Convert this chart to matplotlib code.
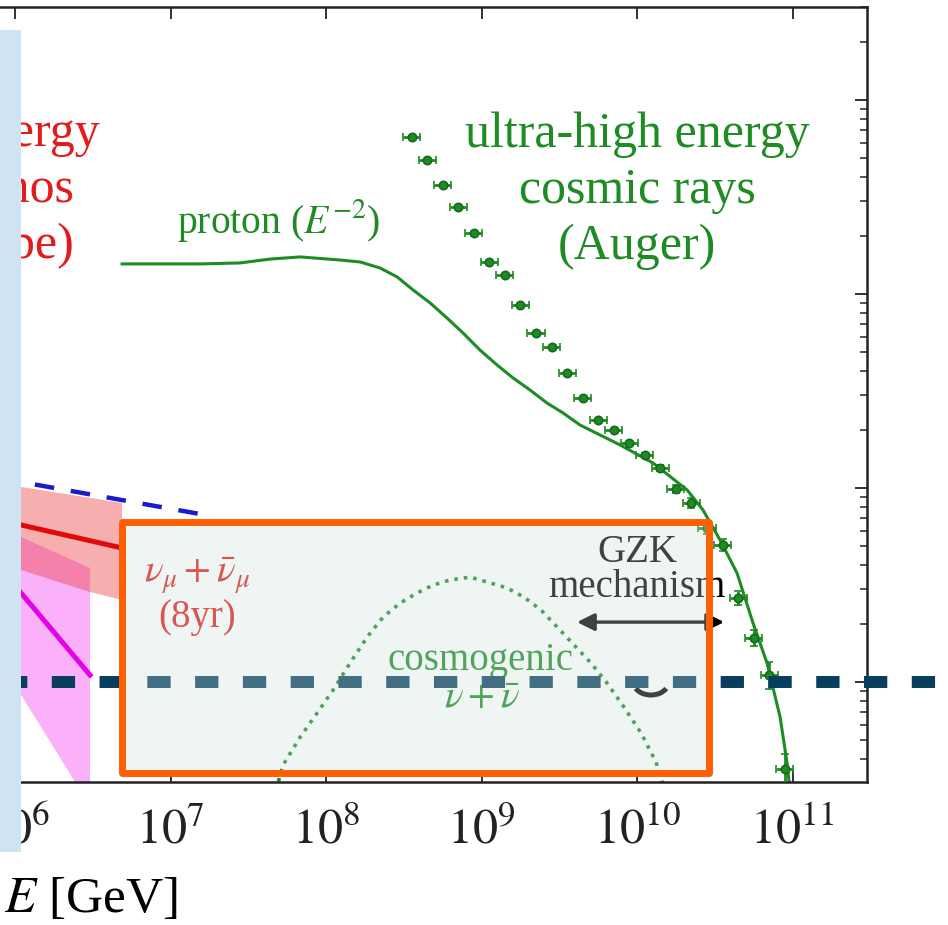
import numpy as np
import matplotlib
matplotlib.use("Agg")
import matplotlib.pyplot as plt
from matplotlib.patches import Rectangle, Polygon, Arc

# log10(E / GeV) and log10(E^2 flux)
proton_logE = [6.688, 7.190, 7.447, 7.640, 7.833, 8.090, 8.219, 8.347, 8.457, 8.559,
               8.669, 8.778, 8.881, 8.990, 9.100, 9.203, 9.312, 9.421, 9.524, 9.633,
               9.891, 10.103, 10.322, 10.424, 10.534, 10.643, 10.746, 10.836, 10.920,
               10.965, 10.990]
proton_logF = [-6.845, -6.845, -6.840, -6.820, -6.809, -6.825, -6.835, -6.866, -6.912, -6.979,
               -7.046, -7.124, -7.201, -7.289, -7.366, -7.433, -7.495, -7.562, -7.613, -7.675,
               -7.778, -7.871, -8.010, -8.113, -8.268, -8.438, -8.696, -8.902, -9.180,
               -9.418, -9.608]

auger_logE = [8.55, 8.65, 8.75, 8.85, 8.95, 9.05, 9.15, 9.25, 9.35, 9.45, 9.55, 9.65, 9.75,
              9.85, 9.95, 10.05, 10.15, 10.25, 10.35, 10.45, 10.55, 10.65, 10.75, 10.85, 10.95]
auger_logF = [-6.191, -6.309, -6.438, -6.552, -6.686, -6.835, -6.902, -7.057, -7.201, -7.273,
              -7.407, -7.536, -7.649, -7.701, -7.768, -7.830, -7.897, -8.005, -8.077, -8.206,
              -8.294, -8.567, -8.773, -8.964, -9.450]
auger_dlogF = [0.005, 0.005, 0.005, 0.005, 0.005, 0.005, 0.005, 0.005, 0.005, 0.005,
               0.005, 0.005, 0.005, 0.005, 0.005, 0.008, 0.015, 0.02, 0.025, 0.03,
               0.03, 0.035, 0.04, 0.07, 0.08]
auger_dlogE = 0.055

cosmo_logE = [7.677, 7.723, 7.833, 7.942, 8.045, 8.154, 8.264, 8.367, 8.476, 8.585, 8.688,
              8.797, 8.926, 9.061, 9.164, 9.273, 9.383, 9.486, 9.595, 9.704, 9.807,
              9.916, 10.026, 10.122, 10.161, 10.180]
cosmo_logF = [-9.560, -9.428, -9.284, -9.160, -9.041, -8.902, -8.768, -8.665, -8.593, -8.541,
              -8.500, -8.474, -8.459, -8.490, -8.515, -8.562, -8.629, -8.716, -8.809,
              -8.902, -9.005, -9.129, -9.263, -9.412, -9.515, -9.557]

# IceCube nu_mu + nubar_mu (8yr) best fit and band
numu_logE = [5.8, 6.688]
numu_logF = [-8.147, -8.309]
numu_band_logE = [5.8, 6.688, 6.688, 6.482, 5.8]
numu_band_logF = [-7.964, -8.077, -8.577, -8.536, -8.361]

# cascade best fit and band
casc_logE = [5.8, 6.482]
casc_logF = [-8.314, -8.964]
casc_band_logE = [5.8, 6.482, 6.482, 5.8]
casc_band_logF = [-8.167, -8.412, -9.639, -8.758]

# upper dashed limit
limit_logE = [5.8, 7.19]
limit_logF = [-7.935, -8.134]

gzk_logE = [9.614, 10.56]
gzk_logF = -8.691

box_logE = [6.69, 10.46]
box_logF = [-9.47, -8.175]

xtick_exps = [6, 7, 8, 9, 10, 11]

green = "#1e8b24"
red = "#e41a1c"

plt.rcParams["font.family"] = "Liberation Serif"
plt.rcParams["mathtext.fontset"] = "stix"

fig = plt.figure(figsize=(9.48, 9.25), dpi=100)
ax = fig.add_axes([-16 / 948, 143 / 925, 883 / 948, 775 / 925])
ax.set_xscale("log")
ax.set_yscale("log")
ax.set_xlim(10 ** 5.8, 10 ** 11.479)
ax.set_ylim(10 ** -9.515, 10 ** -5.521)

p10 = lambda v: 10 ** np.asarray(v, dtype=float)

# bands and neutrino fits
ax.add_patch(Polygon(np.column_stack([p10(casc_band_logE), p10(casc_band_logF)]),
                     closed=True, facecolor=(0.95, 0.2, 0.95), alpha=0.38, lw=0, zorder=1))
ax.add_patch(Polygon(np.column_stack([p10(numu_band_logE), p10(numu_band_logF)]),
                     closed=True, facecolor=(0.93, 0.25, 0.25), alpha=0.42, lw=0, zorder=1.1))
ax.plot(p10(numu_logE), p10(numu_logF), color="#e00a0a", lw=3.6, zorder=2)
ax.plot(p10(casc_logE), p10(casc_logF), color="#e600e6", lw=3.6, zorder=2)
ax.plot(p10(limit_logE), p10(limit_logF), color="#1a1ad0", lw=3.2,
        dashes=(4.4, 3.8), zorder=2)

# cosmic ray spectrum and proton model
ax.plot(p10(proton_logE), p10(proton_logF), color=green, lw=2.2, zorder=2)
aE = p10(auger_logE)
aF = p10(auger_logF)
dF = np.asarray(auger_dlogF)
xerr = [aE - aE * 10 ** -auger_dlogE, aE * 10 ** auger_dlogE - aE]
yerr = [aF - aF * 10 ** -dF, aF * 10 ** dF - aF]
yerr[0][-1] = aF[-1] - 10 ** -9.9
ax.errorbar(aE, aF, xerr=xerr, yerr=yerr, fmt="o", ms=6, color=green,
            mec="#156b1a", mew=1.2, ecolor=green, elinewidth=2.0, capsize=3.2,
            capthick=2.0, zorder=3)

# cosmogenic neutrinos
ax.plot(p10(cosmo_logE), p10(cosmo_logF), color="#22852a", lw=2.6, ls=":", zorder=2)

# GZK arrow
ax.annotate("", xy=(p10(gzk_logE[0]), p10(gzk_logF)), xytext=(p10(gzk_logE[1]), p10(gzk_logF)),
            arrowprops=dict(arrowstyle="<|-|>", color="black", lw=2.4,
                            mutation_scale=26, shrinkA=0, shrinkB=0), zorder=3)
ax.add_patch(Arc((651 / 948, 1 - 683 / 925), 34 / 948, 24 / 925, theta1=200, theta2=340,
                 transform=fig.transFigure, color="black", lw=3.6, zorder=3))

# labels
for txt, lx, ly in [("high-energy", 6.547, -6.237), ("neutrinos", 6.386, -6.521),
                    ("(IceCube)", 6.386, -6.814)]:
    ax.text(p10(lx), p10(ly), txt, color=red, fontsize=36, ha="right", va="baseline",
            zorder=3)
for txt, ly in [("ultra-high energy", -6.242), ("cosmic rays", -6.531), ("(Auger)", -6.820)]:
    ax.text(p10(10.0), p10(ly), txt, color=green, fontsize=36, ha="center", va="baseline",
            zorder=3)
ax.text(p10(7.042), p10(-6.686), r"proton ($E^{-2}$)", color=green, fontsize=28.5,
        ha="left", va="baseline", zorder=3)
ax.text(p10(7.17), p10(-8.49), r"$\nu_\mu + \bar{\nu}_\mu$", color=red, fontsize=28,
        ha="center", va="baseline", zorder=3)
ax.text(p10(7.17), p10(-8.716), "(8yr)", color=red, fontsize=28, ha="center",
        va="baseline", zorder=3)
ax.text(p10(8.994), p10(-8.938), "cosmogenic", color=green, fontsize=28, ha="center",
        va="baseline", zorder=3)
ax.text(p10(9.0), p10(-9.134), r"$\nu + \bar{\nu}$", color=green, fontsize=28,
        ha="center", va="baseline", zorder=3)
ax.text(p10(10.0), p10(-8.381), "GZK", color="black", fontsize=28, ha="center",
        va="baseline", zorder=3)
ax.text(p10(10.0), p10(-8.562), "mechanism", color="black", fontsize=28, ha="center",
        va="baseline", zorder=3)

# horizontal reference line running out past the frame
ax.plot([0.0227, 1.092], [1e-9, 1e-9], transform=ax.get_yaxis_transform(),
        color="#083d5e", lw=8.6, dashes=(1.95, 2.05), clip_on=False, zorder=4)

# highlighted box
ax.add_patch(Rectangle((p10(box_logE[0]), p10(box_logF[0])),
                       p10(box_logE[1]) - p10(box_logE[0]), p10(box_logF[1]) - p10(box_logF[0]),
                       facecolor=(0.78, 0.88, 0.85, 0.3), edgecolor="#ff5f00", lw=5,
                       joinstyle="round", zorder=5))

# axes styling
ax.set_xticks(p10(xtick_exps))
ax.set_xticklabels([r"$10^{%d}$" % e for e in xtick_exps])
ax.tick_params(which="both", direction="in", top=True, right=True, colors="#222222")
ax.tick_params(which="major", length=8.6, width=1.3, labelsize=36, pad=19)
ax.tick_params(which="minor", length=5, width=1.1)
ax.tick_params(axis="y", labelleft=False)
for s in ax.spines.values():
    s.set_linewidth(1.8)
    s.set_color("#222222")
ax.set_xlabel(r"$E$ [GeV]", fontsize=37)
ax.xaxis.set_label_coords(107 / 883, -0.122)

# side panel
fig.add_artist(Rectangle((0, 1 - 852 / 925), 21 / 948, 822 / 925, transform=fig.transFigure,
                         facecolor="#cfe4f3", edgecolor="none", zorder=10))

fig.savefig("out.png", dpi=100)
